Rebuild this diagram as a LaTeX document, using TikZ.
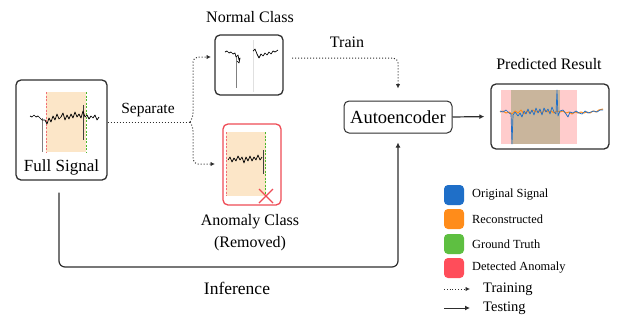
\documentclass[tikz,border=0pt]{standalone}
\usepackage{fontspec}
\setmainfont{Liberation Serif}
\usetikzlibrary{arrows.meta}
\definecolor{boxline}{HTML}{2E2E2E}
\definecolor{regshade}{HTML}{FCE6C8}
\definecolor{anomred}{HTML}{EE4B55}
\definecolor{gtgreen}{HTML}{4CB82C}
\definecolor{sigblue}{HTML}{1F6FC8}
\definecolor{sigorange}{HTML}{FF8C1A}
\definecolor{detred}{HTML}{FF4D5A}
\definecolor{pinkreg}{HTML}{FFCCCC}
\definecolor{tanreg}{HTML}{C9B59C}
\newcommand{\fsz}[1]{\fontsize{#1}{#1}\selectfont}
\tikzset{
  panel/.style={draw=boxline, line width=1.3pt, rounded corners=5pt, inner sep=0pt},
  lbl/.style={inner sep=0pt, font=\fsz{16}},
  trainline/.style={dotted, line width=1pt, draw=boxline, -{Latex[length=4.5pt,width=4.5pt]}},
  testline/.style={line width=1.2pt, draw=boxline, -{Latex[length=5pt,width=5pt]}},
  sig/.style={line width=0.7pt, line join=round},
  legsq/.style={rounded corners=4pt, minimum width=20pt, minimum height=20pt, inner sep=0pt},
  legtxt/.style={inner sep=0pt, anchor=west, font=\fsz{12.4}},
  bound/.style={dashed, line width=0.8pt, dash pattern=on 2pt off 1.5pt},
}
\begin{document}
\begin{tikzpicture}[x=1pt,y=-1pt]
\useasboundingbox (0,0) rectangle (622,322);

% ---------- Full signal ----------
\fill[regshade] (46,92) rectangle (86,152);
\draw[bound, anomred!80] (46,92) -- (46,152);
\draw[bound, gtgreen] (86,92) -- (86,152);
\draw[gray, line width=0.8pt] (42,118) -- (42,152);
\draw[black!75, line width=0.9pt] (83,105) -- (83,140);
\draw[sig] (30,116)--(32,117)--(34,115)--(36,117)--(38,116)--(40,118)--(42,120)--(45,120)--(47,124)--(49,118)--(51,122)--(53,116)--(55,120)--(57,114)--(59,119)--(61,117)--(63,113)--(65,120)--(67,115)--(69,119)--(71,114)--(73,118)--(75,112)--(77,117)--(79,114)--(81,118)--(83,111)--(85,117)--(87,115)--(89,119)--(91,116)--(93,118)--(95,115)--(97,120)--(99,117);
\node[panel, minimum width=91pt, minimum height=100pt] (full) at (61.5,130) {};
\node[lbl, font=\fsz{17}] (fulltxt) at (61.5,167) {Full Signal};

% ---------- Normal class ----------
\node[lbl] (normaltitle) at (250,17) {Normal Class};
\draw[black!12, line width=0.6pt] (253,40) -- (253,92);
\draw[gray, line width=0.8pt] (236,56) -- (236,88);
\draw[sig] (225,52)--(227,51)--(229,53)--(231,52)--(233,54)--(235,53)--(236,57)--(238,55)--(239,60)--(240,58)--(239,63)--(237,61);
\draw[sig] (253,51)--(255,49)--(257,54)--(259,58)--(261,54)--(263,56)--(265,53)--(267,55)--(269,52)--(271,54)--(273,51)--(275,52)--(278,50);
\node[panel, minimum width=68pt, minimum height=60pt] (normal) at (249,65) {};

% ---------- Anomaly class ----------
\fill[regshade] (226,132) rectangle (266,196);
\draw[bound, anomred!80] (226,132) -- (226,196);
\draw[bound, gtgreen] (265,132) -- (265,196);
\draw[black!75, line width=0.9pt] (263,150) -- (263,174);
\draw[sig] (228,160)--(230,157)--(232,162)--(234,158)--(236,161)--(238,156)--(240,160)--(242,157)--(244,163)--(246,157)--(248,161)--(250,156)--(252,161)--(254,157)--(256,160)--(258,155)--(260,160)--(262,157);
\draw[anomred, line width=1.2pt] (259,189) -- (273,203) (259,203) -- (273,189);
\node[panel, draw=anomred, minimum width=58pt, minimum height=81pt] (anomaly) at (252,164.5) {};
\node[lbl] (anomtxt) at (250,222) {Anomaly Class};
\node[lbl] (removed) at (250,244) {(Removed)};

% ---------- Autoencoder ----------
\node[panel, line width=1pt, minimum width=108pt, minimum height=32pt, font=\fsz{18.5}] (auto) at (398,117) {Autoencoder};

% ---------- Predicted result ----------
\node[lbl] (predtitle) at (549,64) {Predicted Result};
\fill[pinkreg] (501,90) rectangle (577,144);
\fill[tanreg] (511,90) rectangle (560,144);
\draw[sig, sigorange, line width=1pt] (500,112)--(503,111)--(506,113)--(509,112)--(512,114)--(515,111)--(518,113)--(521,110)--(524,114)--(527,111)--(530,113)--(533,110)--(536,112)--(539,111)--(542,113)--(545,110)--(548,112)--(551,111)--(554,113)--(557,111)--(560,112)--(563,111)--(566,113)--(569,112)--(572,114)--(575,112)--(578,113)--(581,112)--(584,113)--(587,112)--(590,113)--(593,111)--(596,112)--(599,110)--(603,109);
\draw[sig, sigblue, line width=0.7pt] (500,111)--(503,112)--(506,110)--(509,113)--(511,114)--(512,144)--(513,115)--(515,112)--(518,116)--(520,113)--(522,117)--(524,111)--(526,114)--(528,109)--(530,114)--(532,110)--(534,115)--(536,108)--(538,113)--(540,109)--(542,115)--(544,108)--(546,112)--(548,109)--(550,114)--(552,107)--(554,112)--(556,114)--(557,90)--(558,116)--(560,111)--(563,110)--(566,114)--(568,117)--(570,112)--(573,113)--(576,111)--(579,113)--(582,114)--(585,111)--(588,113)--(591,112)--(594,111)--(597,112)--(600,110)--(603,110);
\node[panel, minimum width=118pt, minimum height=65pt] (pred) at (550,116.5) {};

% ---------- Connectors ----------
\coordinate (j) at (190,122);
\coordinate (na) at (211,57);
\coordinate (aa) at (215,164);
\node[lbl, font=\fsz{15.5}] (septxt) at (148,110) {Separate};
\draw[dotted, line width=1pt, draw=boxline] (j -| full.east) -- (j);
\draw[trainline, rounded corners=5pt] (j) -- ++(3,-4) |- (na);
\draw[trainline, rounded corners=5pt] (j) -- ++(3,4) |- (aa);

\node[lbl] (traintxt) at (347,42) {Train};
\coordinate (tstart) at (292,58);
\draw[trainline, rounded corners=5pt, shorten >=12pt] (tstart) -| (auto.north);

\draw[testline, shorten >=6pt] (auto.east) -- (pred.west);

\draw[testline, rounded corners=6pt, shorten <=12pt, shorten >=9pt] (full.south -| 59,0) |- (200,267) -| (auto.south);
\node[lbl, font=\fsz{17.5}] (inftxt) at (237,288) {Inference};

% ---------- Legend ----------
\node[legsq, fill=sigblue] (lb) at (454,195) {};
\node[legsq, fill=sigorange] (lo) at (454,219) {};
\node[legsq, fill=gtgreen!90!white] (lg) at (454,244) {};
\node[legsq, fill=detred] (lr) at (454,268) {};
\node[legtxt] (lbt) at (472,195) {Original Signal};
\node[legtxt] (lot) at (472,219) {Reconstructed};
\node[legtxt] (lgt) at (472,244) {Ground Truth};
\node[legtxt] (lrt) at (472,268) {Detected Anomaly};
\coordinate (tr1) at (444,289);
\coordinate (tr2) at (470,289);
\coordinate (te1) at (444,308);
\coordinate (te2) at (470,308);
\draw[trainline, line width=0.8pt] (tr1) -- (tr2);
\draw[testline, line width=1pt] (te1) -- (te2);
\node[legtxt, font=\fsz{14.5}] (trt) at (483,289) {Training};
\node[legtxt, font=\fsz{14.5}] (tet) at (483,308) {Testing};
\end{tikzpicture}
\end{document}
